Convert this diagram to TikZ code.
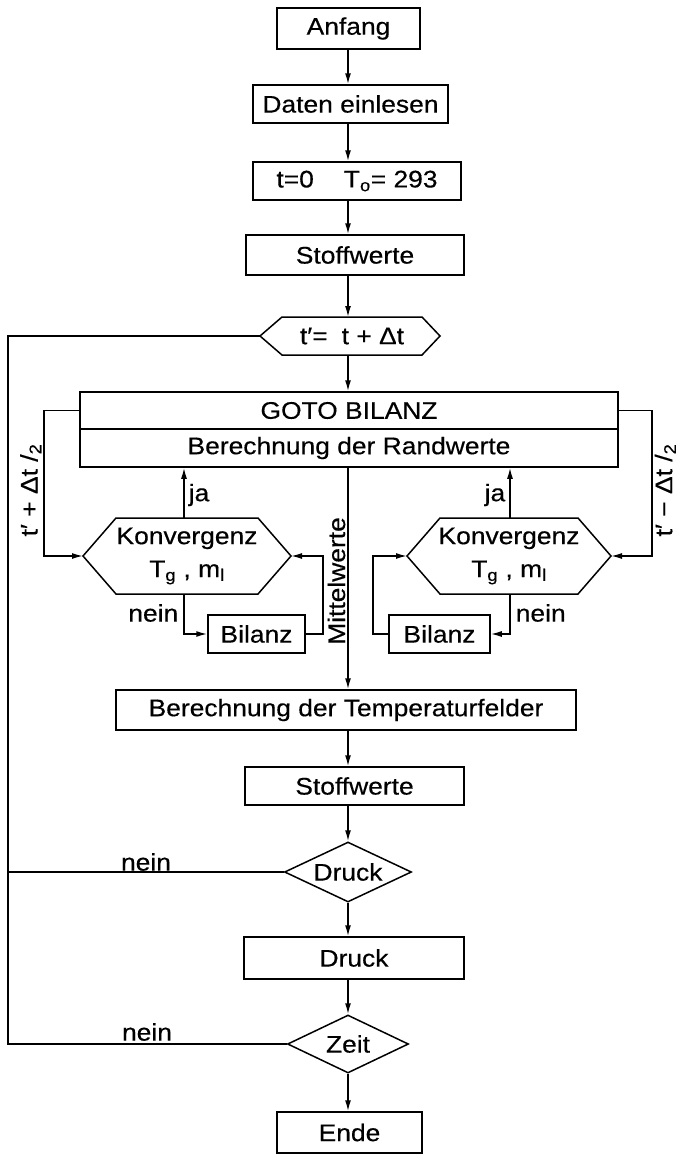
\documentclass[tikz,border=0pt]{standalone}
\usepackage{fontspec}
\setmainfont{Liberation Sans}[FakeStretch=1.1,FakeBold=0.4]
\usetikzlibrary{arrows.meta,shapes.geometric}
\begin{document}
\begin{tikzpicture}[x=1pt,y=-1pt,
  line width=1.5pt,
  every node/.style={font=\fontsize{24}{28}\selectfont, inner sep=0pt},
  box/.style={draw, rectangle, inner sep=0pt},
  dia/.style={draw, diamond, aspect=2, inner sep=0pt},
  arr/.style={-{Latex[length=11pt,width=6pt]}},
  lbl/.style={inner sep=2pt}]
\useasboundingbox (0,0) rectangle (687,1157);
\coordinate (ax) at (348,0);

% main boxes
\node[box, minimum width=143pt, minimum height=41pt] (anfang) at (348.5,28.5) {Anfang};
\node[box, minimum width=195pt, minimum height=38pt] (daten) at (350.5,104) {Daten einlesen};
\node[box, minimum width=208pt, minimum height=38pt] (tnull) at (357,181) {t=0\hspace{30pt}T\textsubscript{o}= 293};
\node[box, minimum width=218pt, minimum height=40pt] (stoff1) at (355,255) {Stoffwerte};

% hexagon t' = t + dt
\coordinate (hex1w) at (260,336);
\coordinate (hex1e) at (440,336);
\coordinate (hex1n) at (348,317);
\coordinate (hex1s) at (348,355);
\draw (hex1w) -- (282,317) -- (422,317) -- (hex1e) -- (422,355) -- (282,355) -- cycle;
\node (hex1) at (352,336) {t′=\hspace{14pt}t + Δt};

% GOTO block
\node[box, minimum width=538pt, minimum height=37pt] (gotoA) at (349,410.5) {GOTO BILANZ};
\node[box, minimum width=538pt, minimum height=38pt] (gotoB) at (349,448) {Berechnung der Randwerte};

% left convergence hexagon
\coordinate (konvLw) at (83,556);
\coordinate (konvLe) at (291,556);
\coordinate (konvLn) at (184,518);
\coordinate (konvLs) at (184,594);
\draw (konvLw) -- (116,518) -- (258,518) -- (konvLe) -- (258,594) -- (116,594) -- cycle;
\node[align=center] (konvL) at (187,556) {Konvergenz\\[5pt]T\textsubscript{g} , m\textsubscript{l}};

% right convergence hexagon
\coordinate (konvRw) at (407,556);
\coordinate (konvRe) at (611,556);
\coordinate (konvRn) at (510,518);
\coordinate (konvRs) at (510,594);
\draw (konvRw) -- (440,518) -- (578,518) -- (konvRe) -- (578,594) -- (440,594) -- cycle;
\node[align=center] (konvR) at (509,556) {Konvergenz\\[5pt]T\textsubscript{g} , m\textsubscript{l}};

% Bilanz boxes
\node[box, minimum width=97pt, minimum height=38pt] (bilanzL) at (256.5,634) {Bilanz};
\node[box, minimum width=101pt, minimum height=38pt] (bilanzR) at (439.5,634) {Bilanz};

% lower boxes
\node[box, minimum width=460pt, minimum height=40pt] (temp) at (346,710) {Berechnung der Temperaturfelder};
\node[box, minimum width=219pt, minimum height=38pt] (stoff2) at (354.5,786) {Stoffwerte};
\node[dia, minimum width=127pt, minimum height=60pt] (druckD) at (348,872) {Druck};
\node[box, minimum width=220pt, minimum height=42pt] (druckB) at (354,958) {Druck};
\node[dia, minimum width=121pt, minimum height=58pt] (zeit) at (348,1044) {Zeit};
\node[box, minimum width=145pt, minimum height=41pt] (ende) at (349.5,1132.5) {Ende};

% helper coordinates
\coordinate (brL) at (44,556);
\coordinate (brR) at (652,556);
\coordinate (loopL) at (323,556);
\coordinate (loopR) at (373,556);
\coordinate (outTop) at (8,336);
\coordinate (outBot) at (8,1044);

% main flow
\draw[arr] (anfang.south -| ax) -- (daten.north -| ax);
\draw[arr] (daten.south -| ax) -- (tnull.north -| ax);
\draw[arr] (tnull.south -| ax) -- (stoff1.north -| ax);
\draw[arr] (stoff1.south -| ax) -- (hex1n);
\draw[arr] (hex1s) -- (gotoA.north -| ax);

% brackets
\draw[arr] (gotoA.west) -| (brL) -- (konvLw);
\draw[arr] (gotoA.east) -| (brR) -- (konvRe);

% ja arrows
\draw[arr] (konvLn) -- (konvLn |- gotoB.south);
\draw[arr] (konvRn) -- (konvRn |- gotoB.south);

% nein -> Bilanz
\draw[arr] (konvLs) |- (bilanzL.west);
\draw[arr] (konvRs) |- (bilanzR.east);

% Bilanz -> Konvergenz
\draw[arr] (bilanzL.east) -| (loopL) -- (konvLe);
\draw[arr] (bilanzR.west) -| (loopR) -- (konvRw);

% Mittelwerte
\draw[arr] (gotoB.south -| ax) -- (temp.north -| ax);

% lower flow
\draw[arr] (temp.south -| ax) -- (stoff2.north -| ax);
\draw[arr] (stoff2.south -| ax) -- (druckD.north);
\draw[arr] (druckD.south) -- (druckB.north -| ax);
\draw[arr] (druckB.south -| ax) -- (zeit.north);
\draw[arr] (zeit.south) -- (ende.north -| ax);

% return loops
\draw (druckD.west) -- (druckD.west -| outTop);
\draw (zeit.west) -- (outBot) -- (outTop) -- (hex1w);

% labels
\node[lbl, anchor=west] (jaL) at (186,495) {ja};
\node[lbl, anchor=east] (jaR) at (508,495) {ja};
\node[lbl, anchor=east] (neinL) at (181,613) {nein};
\node[lbl, anchor=west] (neinR) at (513,613) {nein};
\node[lbl, rotate=90, anchor=south] (mittel) at (348,581) {Mittelwerte};
\node[lbl, rotate=90, anchor=south] (tplus) at (44,490) {t′ + Δt /\textsubscript{2}};
\node[lbl, rotate=90, anchor=north] (tminus) at (652,490) {t′ − Δt /\textsubscript{2}};
\node[lbl] (neinD) at (146,862) {nein};
\node[lbl] (neinZ) at (147,1032) {nein};
\end{tikzpicture}
\end{document}
